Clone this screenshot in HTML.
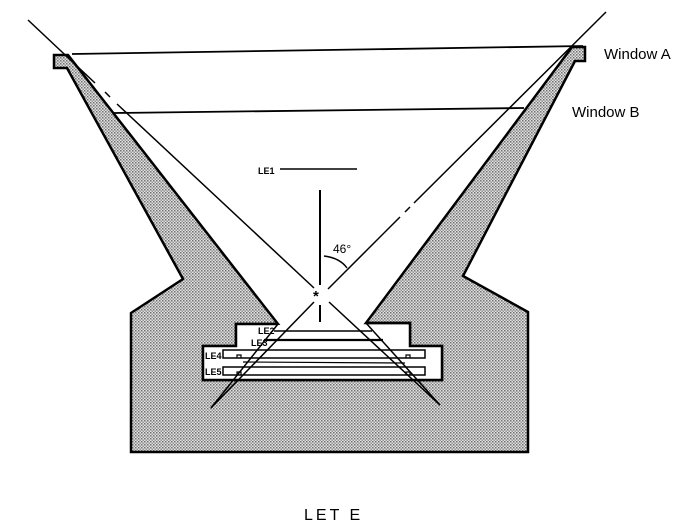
<!DOCTYPE html>
<html><head><meta charset="utf-8"><style>
html,body{margin:0;padding:0;background:#fff;}
svg{display:block;}
text{font-family:"Liberation Sans",sans-serif;fill:#000;}
</style></head><body>
<svg width="696" height="532" viewBox="0 0 696 532">
<defs>
<pattern id="dots" width="3" height="3" patternUnits="userSpaceOnUse">
<rect width="3" height="3" fill="#e2e2e2"/>
<rect width="1.5" height="1.5" fill="#707070"/>
<rect x="1.5" y="1.5" width="1.5" height="1.5" fill="#959595"/>
</pattern>
</defs>
<!-- body -->
<path d="M54,55 L68,55 L278,324 L236,324 L236,346 L203,346 L203,380 L442,380 L442,346 L410,346 L410,323 L366,323 L572,47 L585,47 L585,61 L575,61 L463,276 L528,312 L528,452 L131,452 L131,313 L183,279 L67,68 L54,68 Z" fill="url(#dots)" stroke="#000" stroke-width="2.5" stroke-linejoin="miter"/>
<!-- cavity white -->
<rect x="237" y="325" width="172" height="22" fill="#fff"/>
<rect x="204" y="347" width="237" height="32" fill="#fff"/>
<path d="M278,324 L236,324 L236,346 L203,346 L203,380 L442,380 L442,346 L410,346 L410,323 L366,323" fill="none" stroke="#000" stroke-width="2.5"/>
<!-- window lines -->
<line x1="72" y1="54" x2="583" y2="46" stroke="#000" stroke-width="1.8"/>
<line x1="114" y1="113" x2="524" y2="108" stroke="#000" stroke-width="1.8"/>
<!-- diagonals -->
<line x1="28" y1="20" x2="95" y2="83" stroke="#000" stroke-width="1.5"/>
<line x1="105" y1="92" x2="110" y2="97" stroke="#000" stroke-width="1.5"/>
<line x1="117" y1="104" x2="314" y2="288" stroke="#000" stroke-width="1.5"/>
<line x1="329" y1="302" x2="440" y2="405" stroke="#000" stroke-width="1.5"/>
<line x1="606" y1="12" x2="414" y2="203" stroke="#000" stroke-width="1.5"/>
<line x1="410" y1="207" x2="405" y2="212" stroke="#000" stroke-width="1.5"/>
<line x1="400" y1="217" x2="328" y2="289" stroke="#000" stroke-width="1.5"/>
<line x1="314" y1="302" x2="211" y2="408" stroke="#000" stroke-width="1.5"/>
<!-- vertical -->
<line x1="320" y1="190" x2="320" y2="285" stroke="#000" stroke-width="2"/>
<line x1="320" y1="305" x2="320" y2="322" stroke="#000" stroke-width="2"/>
<text x="313" y="301" font-size="15" font-weight="bold">*</text>
<path d="M324,256 Q340,258 347,268" fill="none" stroke="#000" stroke-width="1.4"/>
<text x="333" y="253" font-size="12">46°</text>
<text x="258" y="174" font-size="9" font-weight="bold">LE1</text>
<line x1="280" y1="169" x2="357" y2="169" stroke="#000" stroke-width="1.4"/>
<!-- detectors -->
<line x1="274" y1="331" x2="372" y2="331" stroke="#000" stroke-width="1.5"/>
<line x1="264" y1="340" x2="383" y2="340" stroke="#000" stroke-width="2.2"/>
<text x="258" y="334" font-size="9" font-weight="bold">LE2</text>
<text x="251" y="346" font-size="9" font-weight="bold">LE3</text>
<text x="205" y="359" font-size="9" font-weight="bold">LE4</text>
<text x="205" y="375" font-size="9" font-weight="bold">LE5</text>
<path d="M223,350 L425,350 L425,358 L223,358 Z" fill="none" stroke="#000" stroke-width="1.5"/>
<path d="M223,367 L425,367 L425,375 L223,375 Z" fill="none" stroke="#000" stroke-width="1.5"/>
<path d="M237,358 v-3 h4 v3 M406,358 v-3 h4 v3 M237,375 v-3 h4 v3 M406,375 v-3 h4 v3" fill="none" stroke="#000" stroke-width="1.2"/>
<line x1="243" y1="362" x2="405" y2="363" stroke="#000" stroke-width="1.2"/>
<line x1="278" y1="324" x2="211" y2="408" stroke="#000" stroke-width="1.5"/>
<line x1="366" y1="323" x2="440" y2="405" stroke="#000" stroke-width="1.5"/>
<text x="604" y="59" font-size="15">Window A</text>
<text x="572" y="117" font-size="15">Window B</text>
<text x="304" y="520" font-size="16" letter-spacing="3">LET E</text>
</svg>
</body></html>
